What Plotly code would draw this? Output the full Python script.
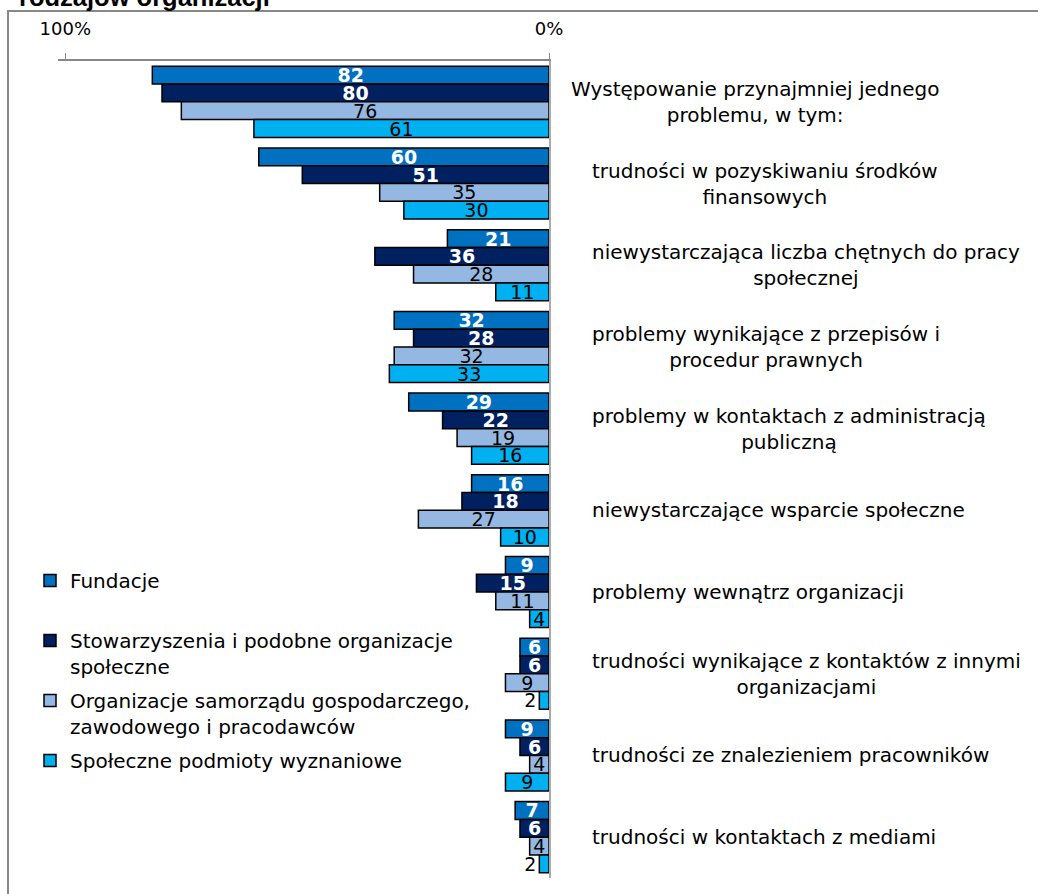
import plotly.graph_objects as go

CATEGORIES = [
    "Występowanie przynajmniej jednego<br>problemu, w tym:",
    "trudności w pozyskiwaniu środków<br>finansowych",
    "niewystarczająca liczba chętnych do pracy<br>społecznej",
    "problemy wynikające z przepisów i<br>procedur prawnych",
    "problemy w kontaktach z administracją<br>publiczną",
    "niewystarczające wsparcie społeczne",
    "problemy wewnątrz organizacji",
    "trudności wynikające z kontaktów z innymi<br>organizacjami",
    "trudności ze znalezieniem pracowników",
    "trudności w kontaktach z mediami",
]

FUNDACJE = [82, 60, 21, 32, 29, 16, 9, 6, 9, 7]
STOWARZYSZENIA = [80, 51, 36, 28, 22, 18, 15, 6, 6, 6]
SAMORZAD = [76, 35, 28, 32, 19, 27, 11, 9, 4, 4]
WYZNANIOWE = [61, 30, 11, 33, 16, 10, 4, 2, 9, 2]

SERIES = [
    ("Fundacje<br> ", FUNDACJE, "#0070C0", True),
    ("Stowarzyszenia i podobne organizacje<br>społeczne", STOWARZYSZENIA, "#002060", True),
    ("Organizacje samorządu gospodarczego,<br>zawodowego i pracodawców", SAMORZAD, "#95B8E3", False),
    ("Społeczne podmioty wyznaniowe", WYZNANIOWE, "#00B0F0", False),
]

FONT = "Verdana, DejaVu Sans, sans-serif"

W, H = 1038, 894
L, R, T, B = 58, 489, 61, 16
plot_w = W - L - R
plot_h = H - T - B

fig = go.Figure()
for i, (name, values, color, dark) in enumerate(SERIES):
    # tiny bars get their label outside, to the left
    positions = ["outside" if v < 3 else "inside" for v in values]
    fig.add_trace(
        go.Bar(
            y=list(range(len(CATEGORIES))),
            x=values,
            orientation="h",
            name=name,
            legendgroup=str(i),
            marker={"color": color, "line": {"color": "#000000", "width": 1.5}},
            text=[str(v) for v in values],
            textposition=positions,
            textangle=0,
            insidetextanchor="middle",
            constraintext="none",
            insidetextfont={
                "family": FONT,
                "size": 19,
                "color": "#ffffff" if dark else "#000000",
                "weight": "bold" if dark else "normal",
            },
            outsidetextfont={"family": FONT, "size": 19, "color": "#000000"},
            cliponaxis=False,
            hoverinfo="skip",
        )
    )

annotations = []
for idx, label in enumerate(CATEGORIES):
    px = 569 if idx == 0 else 590
    annotations.append(
        dict(
            x=(px - L) / plot_w,
            xref="paper",
            y=idx,
            yref="y",
            text=label,
            showarrow=False,
            xanchor="left",
            yanchor="middle",
            align="center",
            font={"family": FONT, "size": 20, "color": "#000000"},
        )
    )

# title, mostly cut off above the canvas
annotations.append(
    dict(
        x=(20 - L) / plot_w,
        xref="paper",
        y=1 + (T + 3) / plot_h,
        yref="paper",
        text="<b>rodzajów organizacji</b>",
        showarrow=False,
        xanchor="left",
        yanchor="middle",
        xshift=-3,
        font={"family": "Liberation Sans, Arial, sans-serif", "size": 25.5, "color": "#000000"},
    )
)

fig.update_layout(
    width=W,
    height=H,
    barmode="group",
    bargap=0.13,
    bargroupgap=0,
    plot_bgcolor="white",
    paper_bgcolor="white",
    margin={"l": L, "r": R, "t": T, "b": B},
    showlegend=True,
    legend={
        "x": (30 - L) / plot_w,
        "y": (H - B - 561) / plot_h,
        "xanchor": "left",
        "yanchor": "top",
        "valign": "top",
        "tracegroupgap": 5,
        "traceorder": "grouped",
        "font": {"family": FONT, "size": 20, "color": "#000000"},
        "bgcolor": "rgba(0,0,0,0)",
    },
    xaxis={
        "range": [101.5, 0],
        "side": "top",
        "tickvals": [100, 0],
        "ticktext": ["100%", "0%"],
        "ticks": "outside",
        "ticklen": 6,
        "tickcolor": "#888888",
        "ticklabelstandoff": 11,
        "showline": True,
        "linecolor": "#888888",
        "linewidth": 2,
        "showgrid": False,
        "zeroline": False,
        "tickfont": {"family": FONT, "size": 18, "color": "#000000"},
        "fixedrange": True,
    },
    yaxis={
        "autorange": "reversed",
        "side": "right",
        "showline": True,
        "linecolor": "#aaaaaa",
        "linewidth": 2,
        "showticklabels": False,
        "ticks": "",
        "showgrid": False,
        "zeroline": False,
        "fixedrange": True,
    },
    annotations=annotations,
    shapes=[
        dict(
            type="rect",
            xref="paper",
            yref="paper",
            x0=(8 - L) / plot_w,
            x1=(W + 10 - L) / plot_w,
            y0=-(B + 10) / plot_h,
            y1=1 + (T - 11) / plot_h,
            line={"color": "#888888", "width": 2},
            fillcolor="rgba(0,0,0,0)",
            layer="below",
        )
    ],
)

fig.write_html(
    "out.html",
    config={"displayModeBar": False},
    post_script="document.body.style.margin='0';document.body.style.overflow='hidden';",
)
